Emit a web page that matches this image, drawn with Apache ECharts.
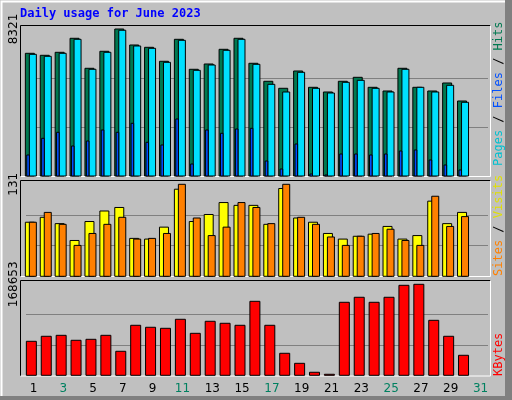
<!DOCTYPE html>
<html><head><meta charset="utf-8">
<script src="https://cdn.jsdelivr.net/npm/echarts@6/dist/echarts.min.js"></script>
<style>html,body{margin:0;padding:0;background:#C0C0C0}#c{width:512px;height:400px}</style>
</head><body><div id="c"></div>
<script>
const days = ['1','2','3','4','5','6','7','8','9','10','11','12','13','14','15','16','17','18','19','20','21','22','23','24','25','26','27','28','29','30','31'];
const weekend = ['3','4','10','11','17','18','24','25','31'];
const hits  = [6945,6832,7002,7795,6097,7059,8321,7416,7285,6493,7738,6040,6340,7172,7795,6380,5361,4965,5944,5021,4755,5361,5587,5021,4812,6097,5021,4812,5265,4246];
const files = [6888,6775,6945,7738,6040,7002,8250,7359,7228,6436,7681,5983,6283,7115,7738,6323,5190,4755,5870,4964,4698,5304,5417,4964,4755,6040,5021,4755,5134,4172];
const pages = [1189,2134,2474,1698,1981,2604,2474,2983,1908,1755,3226,679,2604,2417,2660,2700,849,396,1811,113,57,1245,1245,1189,1245,1415,1472,906,623,340];
const visits = [77,84,75,51,78,93,98,54,53,70,124,78,88,105,101,101,74,125,83,77,61,53,57,60,71,53,58,107,75,91];
const sites  = [77,91,74,44,61,74,84,53,54,61,131,83,58,70,105,98,75,131,84,74,56,44,57,61,67,51,44,114,71,85];
const kbytes = [63000,72300,74100,64900,66700,74100,44500,92700,89000,87100,103800,77800,100100,96400,92700,137100,92700,40800,22200,5600,1900,135300,144600,135300,144600,166800,168653,101900,72300,37100];

const maxTop = Math.max(...hits), maxMid = Math.max(...visits, ...sites), maxBot = Math.max(...kbytes);
const panels = [
  {top:25, h:151, ymax:maxTop*151/147, max:maxTop},
  {top:180, h:96.3, ymax:maxMid*96.3/92, max:maxMid},
  {top:280, h:95.3, ymax:maxBot*95.3/91, max:maxBot}
];
const grid = panels.map(p=>({left:26,right:24,top:p.top,height:p.h,show:false}));
const xAxis = panels.map((p,i)=>({type:'category',gridIndex:i,data:days,
  axisLine:{show:false},axisTick:{show:false},
  axisLabel:{show:i===2,margin:8,fontFamily:'DejaVu Sans',fontSize:12,
    color:(v)=>weekend.includes(v)?'#008060':'#000000'}}));
const yAxis = panels.map((p,i)=>({type:'value',gridIndex:i,min:0,max:p.ymax,
  splitLine:{show:false},axisLine:{show:false},axisTick:{show:false},
  axisLabel:{show:true,rotate:90,margin:6,fontFamily:'DejaVu Sans',fontSize:12,color:'#000',
    showMinLabel:false,showMaxLabel:true,
    customValues:[p.max],formatter:v=>String(Math.round(v))}}));

function barSeries(gi, data, color, off, w, z, grids){
  const s = {type:'custom',xAxisIndex:gi,yAxisIndex:gi,z:z,
    data:data.map((v,i)=>[i,v]),
    renderItem:(params,api)=>{
      const b=api.coord([api.value(0),0]); const t=api.coord([api.value(0),api.value(1)]);
      return {type:'rect',shape:{x:b[0]+off,y:t[1],width:w,height:b[1]-t[1]},
        style:{fill:color,stroke:'#000',lineWidth:1}};
    }};
  if(grids){
    const p=panels[gi];
    s.markLine={silent:true,symbol:'none',z:1,label:{show:false},
      lineStyle:{color:'#808080',type:'solid',width:1},
      data:[{yAxis:p.max/3},{yAxis:p.max*2/3}]};
  }
  return s;
}
const series = [
  barSeries(0,hits,'#007850',-8.1,9,3,true),
  barSeries(0,files,'#00E0FF',-4.1,7,4),
  barSeries(0,pages,'#0050FF',-6.7,2.6,5),
  barSeries(1,visits,'#FFFF00',-8.1,9,3,true),
  barSeries(1,sites,'#FF8000',-4.1,7,4),
  barSeries(2,kbytes,'#FF0000',-7.1,10,3,true)
];

function frame(y0,y1){
  return [
    {type:'rect',shape:{x:20.5,y:y0,width:470,height:y1-y0},style:{fill:'#C0C0C0'},z:-10},
    {type:'polyline',shape:{points:[[20.5,y1],[20.5,y0],[490.5,y0]]},style:{stroke:'#000',lineWidth:1,fill:null},z:-5},
    {type:'polyline',shape:{points:[[490.5,y0],[490.5,y1],[20.5,y1]]},style:{stroke:'#FFF',lineWidth:1,fill:null},z:-5}
  ];
}
const graphic = [
  {type:'rect',shape:{x:0,y:0,width:512,height:400},style:{fill:'#C0C0C0'},z:-20},
  {type:'rect',shape:{x:505,y:0,width:7,height:400},style:{fill:'#808080'},z:-19},
  {type:'rect',shape:{x:0,y:396,width:512,height:4},style:{fill:'#808080'},z:-19},
  {type:'polyline',shape:{points:[[1.5,396],[1.5,1.5],[505,1.5]]},style:{stroke:'#FFF',lineWidth:2,fill:null},z:-18},
  ...frame(25.5,176.5),...frame(180.5,276.5),...frame(280.5,376),
  {type:'text',left:20,top:8,style:{text:'Daily usage for June 2023',fill:'#0000FF',font:'bold 12px "DejaVu Sans Mono"'}},
  {type:'text',x:493,y:166,rotation:Math.PI/2,style:{text:'{p|Pages} {s|/} {f|Files} {s|/} {h|Hits}',font:'12px "DejaVu Sans Mono"',
    rich:{p:{fill:'#00C0D0',font:'12px "DejaVu Sans Mono"'},s:{fill:'#000',font:'12px "DejaVu Sans Mono"'},f:{fill:'#0050FF',font:'12px "DejaVu Sans Mono"'},h:{fill:'#007850',font:'12px "DejaVu Sans Mono"'}}}},
  {type:'text',x:493,y:276,rotation:Math.PI/2,style:{text:'{a|Sites} {s|/} {b|Visits}',font:'12px "DejaVu Sans Mono"',
    rich:{a:{fill:'#FF8000',font:'12px "DejaVu Sans Mono"'},s:{fill:'#000',font:'12px "DejaVu Sans Mono"'},b:{fill:'#E0E000',font:'12px "DejaVu Sans Mono"'}}}},
  {type:'text',x:493,y:376,rotation:Math.PI/2,style:{text:'KBytes',fill:'#FF0000',font:'12px "DejaVu Sans Mono"'}}
];
const chart = echarts.init(document.getElementById('c'));
chart.setOption({animation:false,backgroundColor:'#C0C0C0',grid,xAxis,yAxis,series,graphic});
</script></body></html>
